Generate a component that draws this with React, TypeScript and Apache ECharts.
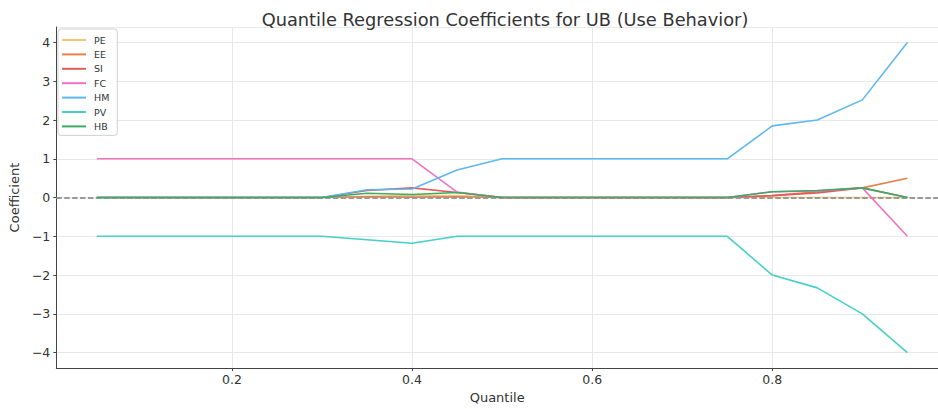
import React, { useEffect, useRef } from "react";
import * as echarts from "echarts";

const quantiles = [0.05, 0.1, 0.15, 0.2, 0.25, 0.3, 0.35, 0.4, 0.45, 0.5, 0.55, 0.6, 0.65, 0.7, 0.75, 0.8, 0.85, 0.9, 0.95];

const seriesNames = ["PE", "EE", "SI", "FC", "HM", "PV", "HB"];
const PE = [0, 0, 0, 0, 0, 0, 0.03, 0.05, 0.05, 0, 0, 0, 0, 0, 0, 0, 0, 0, 0];
const EE = [0, 0, 0, 0, 0, 0, 0.02, 0.01, 0.02, 0, 0, 0, 0, 0, 0, 0.05, 0.15, 0.25, 0.5];
const SI = [0, 0, 0, 0, 0, 0, 0.18, 0.25, 0.13, 0, 0, 0, 0, 0, 0, 0.05, 0.12, 0.25, 0];
const FC = [1, 1, 1, 1, 1, 1, 1, 1, 0.14, 0, 0, 0, 0, 0, 0, 0.15, 0.17, 0.25, -1];
const HM = [0, 0, 0, 0, 0, 0, 0.2, 0.22, 0.71, 1, 1, 1, 1, 1, 1, 1.85, 2.0, 2.52, 4.0];
const PV = [-1, -1, -1, -1, -1, -1, -1.09, -1.18, -1, -1, -1, -1, -1, -1, -1, -2, -2.33, -3, -4];
const HB = [0, 0, 0, 0, 0, 0, 0.11, 0.08, 0.13, 0, 0, 0, 0, 0, 0, 0.15, 0.18, 0.25, 0];

const seriesValues = [PE, EE, SI, FC, HM, PV, HB];
const seriesColors = ["#f2c76e", "#e8804c", "#e05d5d", "#ee74c0", "#5cb8ef", "#45d0c8", "#3daa68"];

const FONT = "DejaVu Sans";

export default function App() {
  const ref = useRef<HTMLDivElement>(null);
  useEffect(() => {
    if (!ref.current) return;
    const chart = echarts.init(ref.current, undefined, { renderer: "svg" });
    const lineSeries = seriesNames.map((name, i) => ({
      name,
      type: "line",
      data: quantiles.map((q, j) => [q, seriesValues[i][j]]),
      symbol: "none",
      lineStyle: { width: 1.6, color: seriesColors[i] },
      itemStyle: { color: seriesColors[i] },
      z: 2 + i,
    }));
    const minus = (v: number) => String(v).replace("-", "\u2212");
    chart.setOption({
      animation: false,
      backgroundColor: "#ffffff",
      title: {
        text: "Quantile Regression Coefficients for UB (Use Behavior)",
        left: 500,
        top: 5,
        textAlign: "center",
        textStyle: { fontFamily: FONT, fontSize: 17.8, fontWeight: "normal", color: "#333333" },
      },
      legend: {
        data: seriesNames,
        orient: "vertical",
        left: 58,
        top: 29,
        padding: [5, 8, 3, 4],
        itemWidth: 24,
        itemHeight: 2,
        itemGap: 2.4,
        icon: "rect",
        backgroundColor: "rgba(255,255,255,0.85)",
        borderColor: "#d0d0d0",
        borderWidth: 1,
        borderRadius: 3,
        textStyle: { fontFamily: FONT, fontSize: 9.5, color: "#333333", lineHeight: 12, padding: [0, 0, 0, 3] },
      },
      grid: { left: 52, right: 0, top: 27, bottom: 31, containLabel: false },
      xAxis: {
        type: "value",
        min: 0.005,
        max: 0.984,
        splitNumber: 5,
        name: "Quantile",
        nameLocation: "middle",
        nameGap: 22,
        nameTextStyle: { fontFamily: FONT, fontSize: 13, color: "#333333" },
        axisLine: { show: true, onZero: false, lineStyle: { color: "#444444", width: 1 } },
        axisTick: { show: true, length: 3, lineStyle: { color: "#444444" } },
        axisLabel: {
          fontFamily: FONT,
          fontSize: 12.5,
          color: "#333333",
          margin: 5,
          showMinLabel: false,
          showMaxLabel: false,
          formatter: (v: number) => v.toFixed(1),
        },
        splitLine: { show: true, lineStyle: { color: "#e8e8e8", width: 1 } },
      },
      yAxis: {
        type: "value",
        min: -4.4,
        max: 4.4,
        splitNumber: 8,
        name: "Coefficient",
        nameLocation: "middle",
        nameGap: 31,
        nameTextStyle: { fontFamily: FONT, fontSize: 13, color: "#333333" },
        axisLine: { show: true, onZero: false, lineStyle: { color: "#444444", width: 1 } },
        axisTick: { show: true, length: 3, lineStyle: { color: "#444444" } },
        axisLabel: {
          fontFamily: FONT,
          fontSize: 12.5,
          color: "#333333",
          margin: 6,
          showMinLabel: false,
          showMaxLabel: false,
          formatter: (v: number) => minus(v),
        },
        splitLine: { show: true, lineStyle: { color: "#e8e8e8", width: 1 } },
      },
      series: [
        ...lineSeries,
        {
          name: "zero",
          type: "line",
          data: [],
          z: 20,
          markLine: {
            silent: true,
            symbol: "none",
            label: { show: false },
            lineStyle: { color: "#9a9a9a", type: [5.5, 2.4], width: 1.8 },
            data: [{ yAxis: 0 }],
          },
        },
      ],
    });
    return () => chart.dispose();
  }, []);
  return <div ref={ref} style={{ position: "fixed", left: 0, top: 0, width: 938, height: 409 }} />;
}
